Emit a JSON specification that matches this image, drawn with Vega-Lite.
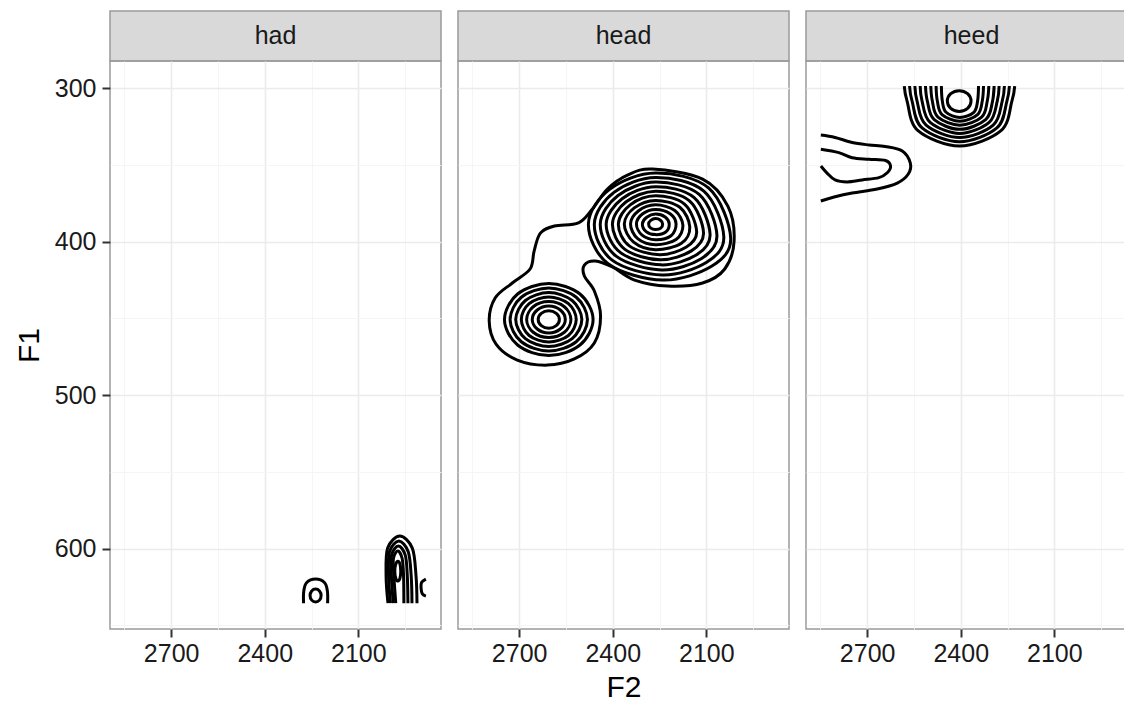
{
  "$schema": "https://vega.github.io/schema/vega-lite/v6.json",
  "background": "white",
  "padding": {"left": 13, "top": 10, "right": 0, "bottom": 0},
  "config": {
    "font": "Liberation Sans",
    "view": {"stroke": "#9a9a9a", "strokeWidth": 1.5},
    "axis": {"labelFont": "Liberation Sans", "titleFont": "Liberation Sans", "labelFontSize": 25, "labelColor": "#1a1a1a", "titleFontSize": 30, "titleFontWeight": "normal", "titleColor": "#000000", "domain": false, "labelOverlap": false}
  },
  "datasets": {
    "c": [
      {"p":"had","g":"s0","o":0,"F2":2275.5,"F1":635.6,"c":0},{"p":"had","g":"s0","o":1,"F2":2275,"F1":628,"c":0},{"p":"had","g":"s0","o":2,"F2":2266,"F1":622.3,"c":0},{"p":"had","g":"s0","o":3,"F2":2237,"F1":619.9,"c":0},{"p":"had","g":"s0","o":4,"F2":2208,"F1":622.3,"c":0},{"p":"had","g":"s0","o":5,"F2":2199,"F1":628,"c":0},{"p":"had","g":"s0","o":6,"F2":2198.5,"F1":635.6,"c":0},
      {"p":"had","g":"s1","o":0,"F2":2219.3,"F1":630.6,"c":1},{"p":"had","g":"s1","o":1,"F2":2224.5,"F1":633.6,"c":1},{"p":"had","g":"s1","o":2,"F2":2237,"F1":634.8,"c":1},{"p":"had","g":"s1","o":3,"F2":2249.5,"F1":633.6,"c":1},{"p":"had","g":"s1","o":4,"F2":2254.7,"F1":630.6,"c":1},{"p":"had","g":"s1","o":5,"F2":2249.5,"F1":627.6,"c":1},{"p":"had","g":"s1","o":6,"F2":2237,"F1":626.4,"c":1},{"p":"had","g":"s1","o":7,"F2":2224.5,"F1":627.6,"c":1},
      {"p":"had","g":"i0","o":0,"F2":1964,"F1":614.7,"c":1},{"p":"had","g":"i0","o":1,"F2":1966.5,"F1":619.3,"c":1},{"p":"had","g":"i0","o":2,"F2":1973,"F1":621.2,"c":1},{"p":"had","g":"i0","o":3,"F2":1980,"F1":619.3,"c":1},{"p":"had","g":"i0","o":4,"F2":1983,"F1":614.7,"c":1},{"p":"had","g":"i0","o":5,"F2":1980,"F1":610.1,"c":1},{"p":"had","g":"i0","o":6,"F2":1973,"F1":608.2,"c":1},{"p":"had","g":"i0","o":7,"F2":1966.5,"F1":610.1,"c":1},
      {"p":"had","g":"u1","o":0,"F2":1980,"F1":635.6,"c":0},{"p":"had","g":"u1","o":1,"F2":1986,"F1":618,"c":0},{"p":"had","g":"u1","o":2,"F2":1987.5,"F1":606.5,"c":0},{"p":"had","g":"u1","o":3,"F2":1973.5,"F1":601.6,"c":0},{"p":"had","g":"u1","o":4,"F2":1959.5,"F1":606.5,"c":0},{"p":"had","g":"u1","o":5,"F2":1955,"F1":618,"c":0},{"p":"had","g":"u1","o":6,"F2":1954,"F1":635.6,"c":0},
      {"p":"had","g":"u2","o":0,"F2":1988,"F1":635.6,"c":0},{"p":"had","g":"u2","o":1,"F2":1994,"F1":618,"c":0},{"p":"had","g":"u2","o":2,"F2":1993.5,"F1":604.3,"c":0},{"p":"had","g":"u2","o":3,"F2":1971.5,"F1":598.4,"c":0},{"p":"had","g":"u2","o":4,"F2":1949.5,"F1":604.3,"c":0},{"p":"had","g":"u2","o":5,"F2":1943,"F1":618,"c":0},{"p":"had","g":"u2","o":6,"F2":1941,"F1":635.6,"c":0},
      {"p":"had","g":"u3","o":0,"F2":1997,"F1":635.6,"c":0},{"p":"had","g":"u3","o":1,"F2":2003,"F1":618,"c":0},{"p":"had","g":"u3","o":2,"F2":2000,"F1":602.0,"c":0},{"p":"had","g":"u3","o":3,"F2":1970,"F1":595.1,"c":0},{"p":"had","g":"u3","o":4,"F2":1940,"F1":602.0,"c":0},{"p":"had","g":"u3","o":5,"F2":1930.5,"F1":618,"c":0},{"p":"had","g":"u3","o":6,"F2":1928,"F1":635.6,"c":0},
      {"p":"had","g":"u4","o":0,"F2":2005,"F1":635.6,"c":0},{"p":"had","g":"u4","o":1,"F2":2011,"F1":618,"c":0},{"p":"had","g":"u4","o":2,"F2":2006,"F1":599.7,"c":0},{"p":"had","g":"u4","o":3,"F2":1967,"F1":591.9,"c":0},{"p":"had","g":"u4","o":4,"F2":1927,"F1":599.7,"c":0},{"p":"had","g":"u4","o":5,"F2":1915,"F1":618,"c":0},{"p":"had","g":"u4","o":6,"F2":1912,"F1":635.6,"c":0},
      {"p":"had","g":"hk","o":0,"F2":1883.5,"F1":619.9,"c":0},{"p":"had","g":"hk","o":1,"F2":1897,"F1":622,"c":0},{"p":"had","g":"hk","o":2,"F2":1899,"F1":625.5,"c":0},{"p":"had","g":"hk","o":3,"F2":1895,"F1":629.5,"c":0},{"p":"had","g":"hk","o":4,"F2":1883.5,"F1":631,"c":0},

      {"p":"head","g":"a0","o":0,"F2":2240,"F1":388.6,"c":1},{"p":"head","g":"a0","o":1,"F2":2246,"F1":391.3,"c":1},{"p":"head","g":"a0","o":2,"F2":2263,"F1":392.2,"c":1},{"p":"head","g":"a0","o":3,"F2":2279,"F1":391.1,"c":1},{"p":"head","g":"a0","o":4,"F2":2285,"F1":388.6,"c":1},{"p":"head","g":"a0","o":5,"F2":2278,"F1":386.2,"c":1},{"p":"head","g":"a0","o":6,"F2":2263,"F1":385.0,"c":1},{"p":"head","g":"a0","o":7,"F2":2247,"F1":386.1,"c":1},
      {"p":"head","g":"a1","o":0,"F2":2219,"F1":388.6,"c":1},{"p":"head","g":"a1","o":1,"F2":2230,"F1":393.8,"c":1},{"p":"head","g":"a1","o":2,"F2":2263,"F1":395.5,"c":1},{"p":"head","g":"a1","o":3,"F2":2293,"F1":393.5,"c":1},{"p":"head","g":"a1","o":4,"F2":2305,"F1":388.6,"c":1},{"p":"head","g":"a1","o":5,"F2":2291,"F1":384.2,"c":1},{"p":"head","g":"a1","o":6,"F2":2263,"F1":382.1,"c":1},{"p":"head","g":"a1","o":7,"F2":2232,"F1":384.0,"c":1},
      {"p":"head","g":"a2","o":0,"F2":2197,"F1":388.6,"c":1},{"p":"head","g":"a2","o":1,"F2":2213,"F1":396.2,"c":1},{"p":"head","g":"a2","o":2,"F2":2263,"F1":398.8,"c":1},{"p":"head","g":"a2","o":3,"F2":2306,"F1":395.8,"c":1},{"p":"head","g":"a2","o":4,"F2":2324,"F1":388.6,"c":1},{"p":"head","g":"a2","o":5,"F2":2305,"F1":382.1,"c":1},{"p":"head","g":"a2","o":6,"F2":2263,"F1":379.1,"c":1},{"p":"head","g":"a2","o":7,"F2":2216,"F1":381.9,"c":1},
      {"p":"head","g":"a3","o":0,"F2":2175,"F1":389.5,"c":1},{"p":"head","g":"a3","o":1,"F2":2197,"F1":398.7,"c":1},{"p":"head","g":"a3","o":2,"F2":2263,"F1":402.1,"c":1},{"p":"head","g":"a3","o":3,"F2":2320,"F1":398.1,"c":1},{"p":"head","g":"a3","o":4,"F2":2343,"F1":388.6,"c":1},{"p":"head","g":"a3","o":5,"F2":2318,"F1":380.1,"c":1},{"p":"head","g":"a3","o":6,"F2":2263,"F1":376.1,"c":1},{"p":"head","g":"a3","o":7,"F2":2201,"F1":379.8,"c":1},
      {"p":"head","g":"a4","o":0,"F2":2153,"F1":390.5,"c":1},{"p":"head","g":"a4","o":1,"F2":2180,"F1":401.2,"c":1},{"p":"head","g":"a4","o":2,"F2":2263,"F1":405.3,"c":1},{"p":"head","g":"a4","o":3,"F2":2333,"F1":400.4,"c":1},{"p":"head","g":"a4","o":4,"F2":2363,"F1":388.6,"c":1},{"p":"head","g":"a4","o":5,"F2":2331,"F1":378.1,"c":1},{"p":"head","g":"a4","o":6,"F2":2263,"F1":373.2,"c":1},{"p":"head","g":"a4","o":7,"F2":2185,"F1":377.7,"c":1},
      {"p":"head","g":"a5","o":0,"F2":2131,"F1":393.6,"c":1},{"p":"head","g":"a5","o":1,"F2":2164,"F1":403.6,"c":1},{"p":"head","g":"a5","o":2,"F2":2250,"F1":408.6,"c":1},{"p":"head","g":"a5","o":3,"F2":2347,"F1":402.8,"c":1},{"p":"head","g":"a5","o":4,"F2":2382,"F1":388.6,"c":1},{"p":"head","g":"a5","o":5,"F2":2344,"F1":376.1,"c":1},{"p":"head","g":"a5","o":6,"F2":2263,"F1":370.2,"c":1},{"p":"head","g":"a5","o":7,"F2":2170,"F1":375.6,"c":1},
      {"p":"head","g":"a6","o":0,"F2":2109,"F1":394.4,"c":1},{"p":"head","g":"a6","o":1,"F2":2148,"F1":406.1,"c":1},{"p":"head","g":"a6","o":2,"F2":2248,"F1":411.9,"c":1},{"p":"head","g":"a6","o":3,"F2":2361,"F1":405.1,"c":1},{"p":"head","g":"a6","o":4,"F2":2401,"F1":388.6,"c":1},{"p":"head","g":"a6","o":5,"F2":2357,"F1":374.1,"c":1},{"p":"head","g":"a6","o":6,"F2":2263,"F1":367.2,"c":1},{"p":"head","g":"a6","o":7,"F2":2154,"F1":373.5,"c":1},
      {"p":"head","g":"a7","o":0,"F2":2088,"F1":395.3,"c":1},{"p":"head","g":"a7","o":1,"F2":2131,"F1":408.6,"c":1},{"p":"head","g":"a7","o":2,"F2":2245,"F1":415.2,"c":1},{"p":"head","g":"a7","o":3,"F2":2374,"F1":407.4,"c":1},{"p":"head","g":"a7","o":4,"F2":2421,"F1":388.6,"c":1},{"p":"head","g":"a7","o":5,"F2":2370,"F1":372.1,"c":1},{"p":"head","g":"a7","o":6,"F2":2263,"F1":364.3,"c":1},{"p":"head","g":"a7","o":7,"F2":2139,"F1":371.4,"c":1},
      {"p":"head","g":"a8","o":0,"F2":2066,"F1":396.1,"c":1},{"p":"head","g":"a8","o":1,"F2":2115,"F1":411.0,"c":1},{"p":"head","g":"a8","o":2,"F2":2243,"F1":418.5,"c":1},{"p":"head","g":"a8","o":3,"F2":2388,"F1":409.7,"c":1},{"p":"head","g":"a8","o":4,"F2":2440,"F1":388.6,"c":1},{"p":"head","g":"a8","o":5,"F2":2383,"F1":370.0,"c":1},{"p":"head","g":"a8","o":6,"F2":2263,"F1":361.3,"c":1},{"p":"head","g":"a8","o":7,"F2":2123,"F1":369.3,"c":1},
      {"p":"head","g":"a9","o":0,"F2":2044,"F1":396.9,"c":1},{"p":"head","g":"a9","o":1,"F2":2099,"F1":413.5,"c":1},{"p":"head","g":"a9","o":2,"F2":2241,"F1":421.8,"c":1},{"p":"head","g":"a9","o":3,"F2":2402,"F1":412.1,"c":1},{"p":"head","g":"a9","o":4,"F2":2459,"F1":388.6,"c":1},{"p":"head","g":"a9","o":5,"F2":2396,"F1":368.0,"c":1},{"p":"head","g":"a9","o":6,"F2":2263,"F1":358.3,"c":1},{"p":"head","g":"a9","o":7,"F2":2108,"F1":367.2,"c":1},
      {"p":"head","g":"a10","o":0,"F2":2022,"F1":397.7,"c":1},{"p":"head","g":"a10","o":1,"F2":2082,"F1":416.0,"c":1},{"p":"head","g":"a10","o":2,"F2":2239,"F1":425.1,"c":1},{"p":"head","g":"a10","o":3,"F2":2415,"F1":414.4,"c":1},{"p":"head","g":"a10","o":4,"F2":2478,"F1":388.6,"c":1},{"p":"head","g":"a10","o":5,"F2":2410,"F1":366.0,"c":1},{"p":"head","g":"a10","o":6,"F2":2263,"F1":355.4,"c":1},{"p":"head","g":"a10","o":7,"F2":2093,"F1":365.1,"c":1},

      {"p":"head","g":"b0","o":0,"F2":2571,"F1":450.8,"c":1},{"p":"head","g":"b0","o":1,"F2":2581,"F1":454.8,"c":1},{"p":"head","g":"b0","o":2,"F2":2605,"F1":456.5,"c":1},{"p":"head","g":"b0","o":3,"F2":2629,"F1":454.8,"c":1},{"p":"head","g":"b0","o":4,"F2":2639,"F1":450.8,"c":1},{"p":"head","g":"b0","o":5,"F2":2629,"F1":446.8,"c":1},{"p":"head","g":"b0","o":6,"F2":2605,"F1":445.1,"c":1},{"p":"head","g":"b0","o":7,"F2":2581,"F1":446.8,"c":1},
      {"p":"head","g":"b1","o":0,"F2":2552,"F1":450.8,"c":1},{"p":"head","g":"b1","o":1,"F2":2568,"F1":457.0,"c":1},{"p":"head","g":"b1","o":2,"F2":2605,"F1":459.6,"c":1},{"p":"head","g":"b1","o":3,"F2":2642,"F1":457.0,"c":1},{"p":"head","g":"b1","o":4,"F2":2658,"F1":450.8,"c":1},{"p":"head","g":"b1","o":5,"F2":2642,"F1":444.6,"c":1},{"p":"head","g":"b1","o":6,"F2":2605,"F1":442.0,"c":1},{"p":"head","g":"b1","o":7,"F2":2568,"F1":444.6,"c":1},
      {"p":"head","g":"b2","o":0,"F2":2534,"F1":450.8,"c":1},{"p":"head","g":"b2","o":1,"F2":2555,"F1":459.1,"c":1},{"p":"head","g":"b2","o":2,"F2":2605,"F1":462.5,"c":1},{"p":"head","g":"b2","o":3,"F2":2655,"F1":459.1,"c":1},{"p":"head","g":"b2","o":4,"F2":2676,"F1":450.8,"c":1},{"p":"head","g":"b2","o":5,"F2":2655,"F1":442.5,"c":1},{"p":"head","g":"b2","o":6,"F2":2605,"F1":439.1,"c":1},{"p":"head","g":"b2","o":7,"F2":2555,"F1":442.5,"c":1},
      {"p":"head","g":"b3","o":0,"F2":2517,"F1":450.8,"c":1},{"p":"head","g":"b3","o":1,"F2":2542,"F1":461.2,"c":1},{"p":"head","g":"b3","o":2,"F2":2605,"F1":465.5,"c":1},{"p":"head","g":"b3","o":3,"F2":2668,"F1":461.2,"c":1},{"p":"head","g":"b3","o":4,"F2":2693,"F1":450.8,"c":1},{"p":"head","g":"b3","o":5,"F2":2668,"F1":440.4,"c":1},{"p":"head","g":"b3","o":6,"F2":2605,"F1":436.1,"c":1},{"p":"head","g":"b3","o":7,"F2":2542,"F1":440.4,"c":1},
      {"p":"head","g":"b4","o":0,"F2":2499,"F1":450.8,"c":1},{"p":"head","g":"b4","o":1,"F2":2530,"F1":463.2,"c":1},{"p":"head","g":"b4","o":2,"F2":2605,"F1":468.4,"c":1},{"p":"head","g":"b4","o":3,"F2":2680,"F1":463.2,"c":1},{"p":"head","g":"b4","o":4,"F2":2711,"F1":450.8,"c":1},{"p":"head","g":"b4","o":5,"F2":2680,"F1":438.4,"c":1},{"p":"head","g":"b4","o":6,"F2":2605,"F1":433.2,"c":1},{"p":"head","g":"b4","o":7,"F2":2530,"F1":438.4,"c":1},
      {"p":"head","g":"b5","o":0,"F2":2481,"F1":450.8,"c":1},{"p":"head","g":"b5","o":1,"F2":2517,"F1":465.3,"c":1},{"p":"head","g":"b5","o":2,"F2":2605,"F1":471.3,"c":1},{"p":"head","g":"b5","o":3,"F2":2693,"F1":465.3,"c":1},{"p":"head","g":"b5","o":4,"F2":2729,"F1":450.8,"c":1},{"p":"head","g":"b5","o":5,"F2":2693,"F1":436.3,"c":1},{"p":"head","g":"b5","o":6,"F2":2605,"F1":430.3,"c":1},{"p":"head","g":"b5","o":7,"F2":2517,"F1":436.3,"c":1},
      {"p":"head","g":"b6","o":0,"F2":2463,"F1":450.8,"c":1},{"p":"head","g":"b6","o":1,"F2":2505,"F1":467.4,"c":1},{"p":"head","g":"b6","o":2,"F2":2605,"F1":474.3,"c":1},{"p":"head","g":"b6","o":3,"F2":2705,"F1":467.4,"c":1},{"p":"head","g":"b6","o":4,"F2":2747,"F1":450.8,"c":1},{"p":"head","g":"b6","o":5,"F2":2705,"F1":434.2,"c":1},{"p":"head","g":"b6","o":6,"F2":2605,"F1":427.3,"c":1},{"p":"head","g":"b6","o":7,"F2":2505,"F1":434.2,"c":1},

      {"p":"head","g":"ho","o":0,"F2":2272,"F1":352.8,"c":1},{"p":"head","g":"ho","o":1,"F2":2112,"F1":359.3,"c":1},{"p":"head","g":"ho","o":2,"F2":2031,"F1":376.9,"c":1},{"p":"head","g":"ho","o":3,"F2":2011,"F1":399.7,"c":1},{"p":"head","g":"ho","o":4,"F2":2041,"F1":417.9,"c":1},{"p":"head","g":"ho","o":5,"F2":2112,"F1":427.0,"c":1},{"p":"head","g":"ho","o":6,"F2":2224,"F1":429.0,"c":1},{"p":"head","g":"ho","o":7,"F2":2330,"F1":425.1,"c":1},{"p":"head","g":"ho","o":8,"F2":2401,"F1":416.6,"c":1},{"p":"head","g":"ho","o":9,"F2":2456,"F1":412.7,"c":1},{"p":"head","g":"ho","o":10,"F2":2491,"F1":415.3,"c":1},{"p":"head","g":"ho","o":11,"F2":2491,"F1":422.5,"c":1},{"p":"head","g":"ho","o":12,"F2":2459,"F1":432.2,"c":1},{"p":"head","g":"ho","o":13,"F2":2439,"F1":448.5,"c":1},{"p":"head","g":"ho","o":14,"F2":2459,"F1":466.1,"c":1},{"p":"head","g":"ho","o":15,"F2":2523,"F1":476.5,"c":1},{"p":"head","g":"ho","o":16,"F2":2610,"F1":480.5,"c":1},{"p":"head","g":"ho","o":17,"F2":2706,"F1":477.2,"c":1},{"p":"head","g":"ho","o":18,"F2":2774,"F1":466.8,"c":1},{"p":"head","g":"ho","o":19,"F2":2796,"F1":451.8,"c":1},{"p":"head","g":"ho","o":20,"F2":2777,"F1":436.8,"c":1},{"p":"head","g":"ho","o":21,"F2":2722,"F1":427.0,"c":1},{"p":"head","g":"ho","o":22,"F2":2665,"F1":417.9,"c":1},{"p":"head","g":"ho","o":23,"F2":2652,"F1":406.2,"c":1},{"p":"head","g":"ho","o":24,"F2":2632,"F1":394.5,"c":1},{"p":"head","g":"ho","o":25,"F2":2587,"F1":389.9,"c":1},{"p":"head","g":"ho","o":26,"F2":2510,"F1":387.9,"c":1},{"p":"head","g":"ho","o":27,"F2":2465,"F1":378.8,"c":1},{"p":"head","g":"ho","o":28,"F2":2417,"F1":365.8,"c":1},{"p":"head","g":"ho","o":29,"F2":2353,"F1":356.7,"c":1},

      {"p":"heed","g":"e0","o":0,"F2":2367,"F1":308.5,"c":1},{"p":"heed","g":"e0","o":1,"F2":2378,"F1":313.3,"c":1},{"p":"heed","g":"e0","o":2,"F2":2405,"F1":315.3,"c":1},{"p":"heed","g":"e0","o":3,"F2":2432,"F1":313.3,"c":1},{"p":"heed","g":"e0","o":4,"F2":2443,"F1":308.5,"c":1},{"p":"heed","g":"e0","o":5,"F2":2432,"F1":303.7,"c":1},{"p":"heed","g":"e0","o":6,"F2":2405,"F1":301.7,"c":1},{"p":"heed","g":"e0","o":7,"F2":2378,"F1":303.7,"c":1},
      {"p":"heed","g":"e1","o":0,"F2":2462,"F1":298.7,"c":0},{"p":"heed","g":"e1","o":1,"F2":2459,"F1":308.5,"c":0},{"p":"heed","g":"e1","o":2,"F2":2447,"F1":315.8,"c":0},{"p":"heed","g":"e1","o":3,"F2":2403,"F1":319.2,"c":0},{"p":"heed","g":"e1","o":4,"F2":2358,"F1":315.8,"c":0},{"p":"heed","g":"e1","o":5,"F2":2346,"F1":308.5,"c":0},{"p":"heed","g":"e1","o":6,"F2":2343,"F1":298.7,"c":0},
      {"p":"heed","g":"e2","o":0,"F2":2479,"F1":298.7,"c":0},{"p":"heed","g":"e2","o":1,"F2":2475,"F1":308.5,"c":0},{"p":"heed","g":"e2","o":2,"F2":2460,"F1":317.3,"c":0},{"p":"heed","g":"e2","o":3,"F2":2403,"F1":321.7,"c":0},{"p":"heed","g":"e2","o":4,"F2":2346,"F1":317.3,"c":0},{"p":"heed","g":"e2","o":5,"F2":2331,"F1":308.5,"c":0},{"p":"heed","g":"e2","o":6,"F2":2327,"F1":298.7,"c":0},
      {"p":"heed","g":"e3","o":0,"F2":2496,"F1":298.7,"c":0},{"p":"heed","g":"e3","o":1,"F2":2491,"F1":308.5,"c":0},{"p":"heed","g":"e3","o":2,"F2":2473,"F1":318.9,"c":0},{"p":"heed","g":"e3","o":3,"F2":2403,"F1":324.2,"c":0},{"p":"heed","g":"e3","o":4,"F2":2333,"F1":318.9,"c":0},{"p":"heed","g":"e3","o":5,"F2":2315,"F1":308.5,"c":0},{"p":"heed","g":"e3","o":6,"F2":2310,"F1":298.7,"c":0},
      {"p":"heed","g":"e4","o":0,"F2":2513,"F1":298.7,"c":0},{"p":"heed","g":"e4","o":1,"F2":2507,"F1":308.5,"c":0},{"p":"heed","g":"e4","o":2,"F2":2485,"F1":320.6,"c":0},{"p":"heed","g":"e4","o":3,"F2":2403,"F1":326.9,"c":0},{"p":"heed","g":"e4","o":4,"F2":2320,"F1":320.6,"c":0},{"p":"heed","g":"e4","o":5,"F2":2298,"F1":308.5,"c":0},{"p":"heed","g":"e4","o":6,"F2":2293,"F1":298.7,"c":0},
      {"p":"heed","g":"e5","o":0,"F2":2530,"F1":298.7,"c":0},{"p":"heed","g":"e5","o":1,"F2":2524,"F1":308.5,"c":0},{"p":"heed","g":"e5","o":2,"F2":2498,"F1":322.4,"c":0},{"p":"heed","g":"e5","o":3,"F2":2403,"F1":329.6,"c":0},{"p":"heed","g":"e5","o":4,"F2":2309,"F1":322.4,"c":0},{"p":"heed","g":"e5","o":5,"F2":2283,"F1":308.5,"c":0},{"p":"heed","g":"e5","o":6,"F2":2277,"F1":298.7,"c":0},
      {"p":"heed","g":"e6","o":0,"F2":2547,"F1":298.7,"c":0},{"p":"heed","g":"e6","o":1,"F2":2540,"F1":308.5,"c":0},{"p":"heed","g":"e6","o":2,"F2":2511,"F1":324.2,"c":0},{"p":"heed","g":"e6","o":3,"F2":2403,"F1":332.3,"c":0},{"p":"heed","g":"e6","o":4,"F2":2296,"F1":324.2,"c":0},{"p":"heed","g":"e6","o":5,"F2":2267,"F1":308.5,"c":0},{"p":"heed","g":"e6","o":6,"F2":2260,"F1":298.7,"c":0},
      {"p":"heed","g":"e7","o":0,"F2":2564,"F1":298.7,"c":0},{"p":"heed","g":"e7","o":1,"F2":2556,"F1":308.5,"c":0},{"p":"heed","g":"e7","o":2,"F2":2524,"F1":326.0,"c":0},{"p":"heed","g":"e7","o":3,"F2":2404,"F1":335.0,"c":0},{"p":"heed","g":"e7","o":4,"F2":2284,"F1":326.0,"c":0},{"p":"heed","g":"e7","o":5,"F2":2252,"F1":308.5,"c":0},{"p":"heed","g":"e7","o":6,"F2":2244,"F1":298.7,"c":0},
      {"p":"heed","g":"e8","o":0,"F2":2581,"F1":298.7,"c":0},{"p":"heed","g":"e8","o":1,"F2":2572,"F1":308.5,"c":0},{"p":"heed","g":"e8","o":2,"F2":2537,"F1":327.8,"c":0},{"p":"heed","g":"e8","o":3,"F2":2404,"F1":337.8,"c":0},{"p":"heed","g":"e8","o":4,"F2":2271,"F1":327.8,"c":0},{"p":"heed","g":"e8","o":5,"F2":2236,"F1":308.5,"c":0},{"p":"heed","g":"e8","o":6,"F2":2227,"F1":298.7,"c":0},
      {"p":"heed","g":"eA","o":0,"F2":2848.4,"F1":330.6,"c":0},{"p":"heed","g":"eA","o":1,"F2":2802.8,"F1":332.2,"c":0},{"p":"heed","g":"eA","o":2,"F2":2748.1,"F1":335.5,"c":0},{"p":"heed","g":"eA","o":3,"F2":2693.5,"F1":337.1,"c":0},{"p":"heed","g":"eA","o":4,"F2":2642,"F1":338.1,"c":0},{"p":"heed","g":"eA","o":5,"F2":2587.4,"F1":341.0,"c":0},{"p":"heed","g":"eA","o":6,"F2":2561.6,"F1":348.9,"c":0},{"p":"heed","g":"eA","o":7,"F2":2568.1,"F1":356.0,"c":0},{"p":"heed","g":"eA","o":8,"F2":2603.4,"F1":361.9,"c":0},{"p":"heed","g":"eA","o":9,"F2":2667.7,"F1":365.8,"c":0},{"p":"heed","g":"eA","o":10,"F2":2748.1,"F1":368.4,"c":0},{"p":"heed","g":"eA","o":11,"F2":2806,"F1":371.0,"c":0},{"p":"heed","g":"eA","o":12,"F2":2848.4,"F1":373.6,"c":0},
      {"p":"heed","g":"eB","o":0,"F2":2848.4,"F1":339.9,"c":0},{"p":"heed","g":"eB","o":1,"F2":2790.9,"F1":342.1,"c":0},{"p":"heed","g":"eB","o":2,"F2":2748.1,"F1":345.4,"c":0},{"p":"heed","g":"eB","o":3,"F2":2694.4,"F1":346.4,"c":0},{"p":"heed","g":"eB","o":4,"F2":2641.1,"F1":347.2,"c":0},{"p":"heed","g":"eB","o":5,"F2":2625,"F1":350.8,"c":0},{"p":"heed","g":"eB","o":6,"F2":2635.6,"F1":355.2,"c":0},{"p":"heed","g":"eB","o":7,"F2":2662.3,"F1":358.4,"c":0},{"p":"heed","g":"eB","o":8,"F2":2716,"F1":359.9,"c":0},{"p":"heed","g":"eB","o":9,"F2":2764.2,"F1":361.2,"c":0},{"p":"heed","g":"eB","o":10,"F2":2802.8,"F1":359.9,"c":0},{"p":"heed","g":"eB","o":11,"F2":2828.5,"F1":355.4,"c":0},{"p":"heed","g":"eB","o":12,"F2":2848.4,"F1":350.8,"c":0}
    ]
  },
  "spacing": 15,
  "hconcat": [
    {
      "spacing": 0,
      "bounds": "flush",
      "vconcat": [
        {"width": 331, "height": 50, "data": {"values": [{"label": "had"}]}, "view": {"fill": "#d9d9d9", "stroke": "#9a9a9a", "strokeWidth": 1.5}, "mark": {"type": "text", "fontSize": 25, "color": "#1a1a1a", "font": "Liberation Sans"}, "encoding": {"text": {"field": "label"}}},
        {
          "width": 331, "height": 568,
          "data": {"name": "c"},
          "transform": [{"filter": "datum.p === 'had'"}],
          "encoding": {
            "x": {"field": "F2", "type": "quantitative", "scale": {"domain": [1835, 2896], "reverse": true, "zero": false, "nice": false},
              "axis": {"title": null, "values": [2850, 2700, 2550, 2400, 2250, 2100, 1950], "format": "d", "labelExpr": "datum.value % 300 === 0 ? datum.label : ''", "grid": true, "gridColor": {"condition": {"test": "datum.value % 300 === 0", "value": "#ebebeb"}, "value": "#f4f4f4"}, "gridWidth": {"condition": {"test": "datum.value % 300 === 0", "value": 1.6}, "value": 0.9}, "tickColor": "#333333", "tickOpacity": {"condition": {"test": "datum.value % 300 === 0", "value": 1}, "value": 0}, "tickSize": 8, "tickWidth": 2, "labelPadding": 4}},
            "y": {"field": "F1", "type": "quantitative", "scale": {"domain": [282.4, 652.4], "reverse": true, "zero": false, "nice": false},
              "axis": {"title": "F1", "titlePadding": 10, "values": [300, 350, 400, 450, 500, 550, 600, 650], "format": "d", "labelExpr": "datum.value % 100 === 0 ? datum.label : ''", "grid": true, "gridColor": {"condition": {"test": "datum.value % 100 === 0", "value": "#ebebeb"}, "value": "#f4f4f4"}, "gridWidth": {"condition": {"test": "datum.value % 100 === 0", "value": 1.6}, "value": 0.9}, "tickColor": "#333333", "tickOpacity": {"condition": {"test": "datum.value % 100 === 0", "value": 1}, "value": 0}, "tickSize": 8, "tickWidth": 2, "labelPadding": 6}},
            "detail": {"field": "g"},
            "order": {"field": "o"}
          },
          "layer": [
            {"transform": [{"filter": "datum.c === 1"}], "mark": {"type": "line", "interpolate": "cardinal-closed", "color": "black", "strokeWidth": 3, "clip": true}},
            {"transform": [{"filter": "datum.c === 0"}], "mark": {"type": "line", "interpolate": "cardinal", "color": "black", "strokeWidth": 3, "clip": true}}
          ]
        }
      ]
    },
    {
      "spacing": 0,
      "bounds": "flush",
      "vconcat": [
        {"width": 331, "height": 50, "data": {"values": [{"label": "head"}]}, "view": {"fill": "#d9d9d9", "stroke": "#9a9a9a", "strokeWidth": 1.5}, "mark": {"type": "text", "fontSize": 25, "color": "#1a1a1a", "font": "Liberation Sans"}, "encoding": {"text": {"field": "label"}}},
        {
          "width": 331, "height": 568,
          "data": {"name": "c"},
          "transform": [{"filter": "datum.p === 'head'"}],
          "encoding": {
            "x": {"field": "F2", "type": "quantitative", "scale": {"domain": [1835, 2896], "reverse": true, "zero": false, "nice": false},
              "axis": {"title": "F2", "titlePadding": 6, "values": [2850, 2700, 2550, 2400, 2250, 2100, 1950], "format": "d", "labelExpr": "datum.value % 300 === 0 ? datum.label : ''", "grid": true, "gridColor": {"condition": {"test": "datum.value % 300 === 0", "value": "#ebebeb"}, "value": "#f4f4f4"}, "gridWidth": {"condition": {"test": "datum.value % 300 === 0", "value": 1.6}, "value": 0.9}, "tickColor": "#333333", "tickOpacity": {"condition": {"test": "datum.value % 300 === 0", "value": 1}, "value": 0}, "tickSize": 8, "tickWidth": 2, "labelPadding": 4}},
            "y": {"field": "F1", "type": "quantitative", "scale": {"domain": [282.4, 652.4], "reverse": true, "zero": false, "nice": false},
              "axis": {"title": null, "labels": false, "ticks": false, "values": [300, 350, 400, 450, 500, 550, 600, 650], "grid": true, "gridColor": {"condition": {"test": "datum.value % 100 === 0", "value": "#ebebeb"}, "value": "#f4f4f4"}, "gridWidth": {"condition": {"test": "datum.value % 100 === 0", "value": 1.6}, "value": 0.9}}},
            "detail": {"field": "g"},
            "order": {"field": "o"}
          },
          "layer": [
            {"transform": [{"filter": "datum.c === 1"}], "mark": {"type": "line", "interpolate": "cardinal-closed", "color": "black", "strokeWidth": 3, "clip": true}},
            {"transform": [{"filter": "datum.c === 0"}], "mark": {"type": "line", "interpolate": "cardinal", "color": "black", "strokeWidth": 3, "clip": true}}
          ]
        }
      ]
    },
    {
      "spacing": 0,
      "bounds": "flush",
      "vconcat": [
        {"width": 331, "height": 50, "data": {"values": [{"label": "heed"}]}, "view": {"fill": "#d9d9d9", "stroke": "#9a9a9a", "strokeWidth": 1.5}, "mark": {"type": "text", "fontSize": 25, "color": "#1a1a1a", "font": "Liberation Sans"}, "encoding": {"text": {"field": "label"}}},
        {
          "width": 331, "height": 568,
          "data": {"name": "c"},
          "transform": [{"filter": "datum.p === 'heed'"}],
          "encoding": {
            "x": {"field": "F2", "type": "quantitative", "scale": {"domain": [1835, 2896], "reverse": true, "zero": false, "nice": false},
              "axis": {"title": null, "values": [2850, 2700, 2550, 2400, 2250, 2100, 1950], "format": "d", "labelExpr": "datum.value % 300 === 0 ? datum.label : ''", "grid": true, "gridColor": {"condition": {"test": "datum.value % 300 === 0", "value": "#ebebeb"}, "value": "#f4f4f4"}, "gridWidth": {"condition": {"test": "datum.value % 300 === 0", "value": 1.6}, "value": 0.9}, "tickColor": "#333333", "tickOpacity": {"condition": {"test": "datum.value % 300 === 0", "value": 1}, "value": 0}, "tickSize": 8, "tickWidth": 2, "labelPadding": 4}},
            "y": {"field": "F1", "type": "quantitative", "scale": {"domain": [282.4, 652.4], "reverse": true, "zero": false, "nice": false},
              "axis": {"title": null, "labels": false, "ticks": false, "values": [300, 350, 400, 450, 500, 550, 600, 650], "grid": true, "gridColor": {"condition": {"test": "datum.value % 100 === 0", "value": "#ebebeb"}, "value": "#f4f4f4"}, "gridWidth": {"condition": {"test": "datum.value % 100 === 0", "value": 1.6}, "value": 0.9}}},
            "detail": {"field": "g"},
            "order": {"field": "o"}
          },
          "layer": [
            {"transform": [{"filter": "datum.c === 1"}], "mark": {"type": "line", "interpolate": "cardinal-closed", "color": "black", "strokeWidth": 3, "clip": true}},
            {"transform": [{"filter": "datum.c === 0"}], "mark": {"type": "line", "interpolate": "cardinal", "color": "black", "strokeWidth": 3, "clip": true}}
          ]
        }
      ]
    }
  ]
}
